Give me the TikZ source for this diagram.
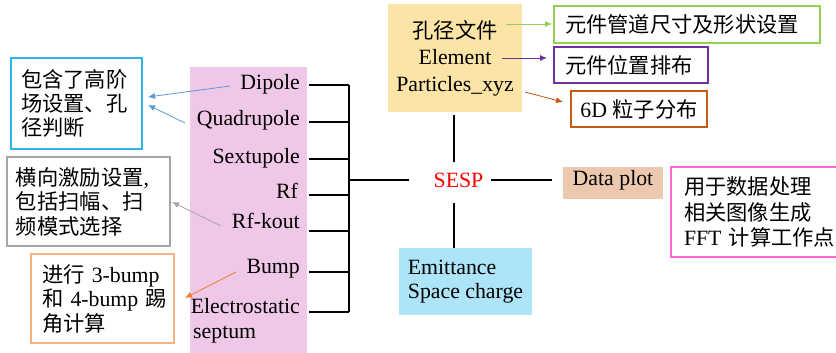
\documentclass[tikz,border=0pt]{standalone}
\usepackage{fontspec}
\setmainfont{Liberation Serif}
\newfontfamily\cjk[Scale=0.975]{Noto Sans CJK SC}
\usetikzlibrary{arrows.meta}
\definecolor{yelfill}{HTML}{FCE4A6}
\definecolor{pinkfill}{HTML}{EFC8E8}
\definecolor{bluefill}{HTML}{ADE4F7}
\definecolor{tanfill}{HTML}{EBC8AE}
\definecolor{cyanline}{HTML}{2EB5E8}
\definecolor{grayline}{HTML}{A6A6A6}
\definecolor{orangeline}{HTML}{F4B183}
\definecolor{greenline}{HTML}{92D050}
\definecolor{purpleline}{HTML}{7030A0}
\definecolor{brownline}{HTML}{C55A11}
\definecolor{magline}{HTML}{FF66CC}
\definecolor{bluearrow}{HTML}{5B9BD5}
\definecolor{orangearrow}{HTML}{ED7D31}
\tikzset{
  base/.style={inner sep=0pt, font=\fontsize{21.8}{25}\selectfont},
  boxed/.style={base, draw=#1, line width=1.2pt, fill=white},
  item/.style={base, anchor=base east},
  thin/.style={draw=black, line width=1.1pt},
  thickline/.style={draw=black, line width=2.2pt},
  arr/.style={draw=#1, line width=0.8pt, -{Latex[length=7pt,width=6pt]}},
}
\begin{document}
\begin{tikzpicture}[x=1pt,y=-1pt]
\useasboundingbox (0,0) rectangle (836,353);
\clip (0,0) rectangle (836,353);
\fill[white] (0,0) rectangle (836,353);

% pink list box
\node[base, fill=pinkfill, minimum width=117pt, minimum height=295pt, anchor=north west] (list) at (190,67) {};
\node[item] (dip) at (300,90) {Dipole};
\node[item] (quad) at (300,125) {Quadrupole};
\node[item] (sext) at (300,163) {Sextupole};
\node[item] (rf) at (298,198) {Rf};
\node[item] (rfk) at (300,228) {Rf-kout};
\node[item] (bump) at (300,273) {Bump};
\node[item] (es) at (300,313) {Electrostatic};
\node[base, anchor=base west] (sep) at (193,338) {septum};

% bracket
\coordinate (v1) at (349,85);
\coordinate (v7) at (349,312);
\foreach \n/\y in {1/85,2/122,3/159,4/195,5/231,6/272,7/312}{
  \coordinate (b\n) at (309,\y);
  \coordinate (c\n) at (349,\y);
  \draw[thin] (b\n) -- (c\n);
}
\draw[thin] (v1) -- (v7);

% center
\node[base, text=red] (sesp) at (458.5,180) {SESP};
\coordinate (bk) at (349,180);
\coordinate (sL) at (409,180);
\coordinate (sR) at (491,180);
\coordinate (sRend) at (552,180);
\coordinate (sT) at (454,162);
\coordinate (sTend) at (454,115);
\coordinate (sB) at (454,203);
\draw[thickline] (bk) -- (sL);
\draw[thickline] (sR) -- (sRend);
\draw[thickline] (sT) -- (sTend);

% yellow box
\node[base, fill=yelfill, minimum width=134pt, minimum height=108pt, align=center,
  font=\fontsize{21.8}{26.5}\selectfont] (files) at (455,58)
  {{\cjk 孔径文件}\\Element\\Particles\_xyz};

% right boxes top
\node[boxed=greenline, minimum width=266pt, minimum height=37pt, text width=244pt, align=left, inner xsep=11pt] (shape) at (687,24.5) {\cjk 元件管道尺寸及形状设置};
\node[boxed=purpleline, minimum width=154pt, minimum height=36pt, text width=132pt, align=left, inner xsep=11pt] (pos) at (631,65) {\cjk 元件位置排布};
\node[boxed=brownline, minimum width=136pt, minimum height=36pt, align=center] (part) at (639,109) {6D {\cjk 粒子分布}};

% data plot
\node[base, fill=tanfill, minimum width=100pt, minimum height=32pt, text height=14pt, text depth=10pt] (plot) at (613,183) {Data plot};
\node[boxed=magline, minimum width=172pt, minimum height=90pt, text width=146pt, align=left, inner xsep=13pt,
  font=\fontsize{21.8}{25.5}\selectfont] (proc) at (757,212)
  {{\cjk 用于数据处理}\\{\cjk 相关图像生成}\\\mbox{FFT {\cjk 计算工作点}}};

% emittance
\node[base, fill=bluefill, minimum width=133pt, minimum height=67pt, align=left,
  font=\fontsize{21.8}{24.5}\selectfont] (emit) at (465.5,281.5) {Emittance\\Space charge};
\draw[thickline] (sB) -- (sB |- emit.north);

% left boxes
\node[boxed=cyanline, minimum width=131pt, minimum height=91pt, text width=111pt, align=left, inner xsep=10pt,
  font=\fontsize{21.8}{24}\selectfont] (high) at (76.5,103.5)
  {\raisebox{-2pt}{\cjk 包含了高阶}\\\raisebox{-2pt}{\cjk 场设置、孔}\\\raisebox{-2pt}{\cjk 径判断}};
\node[boxed=grayline, minimum width=163pt, minimum height=89pt, text width=145pt, align=left, inner xsep=9pt,
  font=\fontsize{21.8}{24.5}\selectfont] (exc) at (88.5,201.5)
  {\mbox{{\cjk 横向激励设置},}\\\mbox{\cjk 包括扫幅、扫}\\\mbox{\cjk 频模式选择}};
\node[boxed=orangeline, minimum width=143pt, minimum height=89pt, text width=121pt, align=left, inner xsep=11pt,
  font=\fontsize{21.8}{24.5}\selectfont] (bmp) at (102.5,298.5)
  {\mbox{{\cjk 进行}\ 3-bump}\\\mbox{{\cjk 和}\ 4-bump\ {\cjk 踢}}\\\mbox{\cjk 角计算}};

% arrows
\coordinate (a1s) at (230,86);   \coordinate (a1e) at (148,97);
\coordinate (a2s) at (185,123);  \coordinate (a2e) at (148,105);
\coordinate (a3s) at (221,226);  \coordinate (a3e) at (172,202);
\coordinate (a4s) at (236,272);  \coordinate (a4e) at (185,298);
\coordinate (a5s) at (506,24);   \coordinate (a5e) at (552,24);
\coordinate (a6s) at (502,58);   \coordinate (a6e) at (547,58);
\coordinate (a7s) at (525,92);   \coordinate (a7e) at (563,102);
\draw[arr=bluearrow] (a1s) -- (a1e);
\draw[arr=bluearrow] (a2s) -- (a2e);
\draw[arr=grayline] (a3s) -- (a3e);
\draw[arr=orangearrow] (a4s) -- (a4e);
\draw[arr=greenline] (a5s) -- (a5e);
\draw[arr=purpleline] (a6s) -- (a6e);
\draw[arr=brownline] (a7s) -- (a7e);
\end{tikzpicture}
\end{document}
